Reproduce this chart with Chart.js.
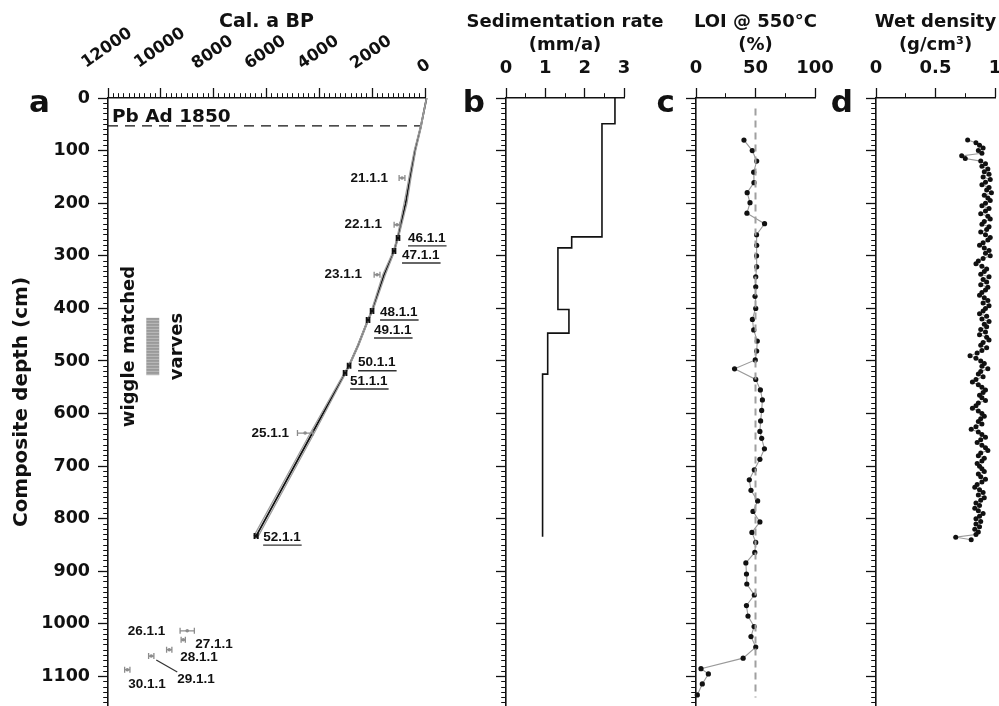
<!DOCTYPE html>
<html>
<head>
<meta charset="utf-8">
<script src="https://cdn.jsdelivr.net/npm/chart.js"></script>
<style>
  body { margin: 0; background: #fff; width: 999px; height: 706px; overflow: hidden; position: relative; }
  canvas { position: absolute; top: 0; }
</style>
</head>
<body>
<canvas id="chartA" width="460" height="706" style="left:0px"></canvas>
<canvas id="chartB" width="230" height="706" style="left:450px"></canvas>
<canvas id="chartC" width="205" height="706" style="left:645px"></canvas>
<canvas id="chartD" width="174" height="706" style="left:825px"></canvas>
<script>
const FONT = '"DejaVu Sans", sans-serif';
const INK = '#111';
const DEPTH_MAX = 1156;

// a: age-depth model (cal. a BP vs composite depth, cm)
const modelDepth = [0, 55, 100, 152, 200, 264, 291, 336, 405, 422, 470, 509, 523, 637, 833];
const modelAge   = [-60, 160, 380, 567, 730, 1021, 1172, 1550, 2004, 2156, 2530, 2874, 3026, 4264, 6392];
const modelOld   = [-60, 180, 410, 610, 790, 1050, 1200, 1600, 2035, 2175, 2555, 2895, 3060, 4340, 6480];
const modelYoung = [-60, 140, 350, 530, 680, 995, 1145, 1500, 1975, 2135, 2505, 2855, 2995, 4190, 6310];
const pbDepth = 53;
const pbLabel = 'Pb Ad 1850';

// a: radiocarbon dates
const dateLabels = ['21.1.1', '22.1.1', '46.1.1', '47.1.1', '23.1.1', '48.1.1', '49.1.1', '50.1.1',
                    '51.1.1', '25.1.1', '52.1.1', '26.1.1', '27.1.1', '28.1.1', '29.1.1', '30.1.1'];
const dateAge   = [870, 1059, 1021, 1172, 1815, 2004, 2156, 2874, 3026, 4538, 6392, 9001, 9152, 9682, 10363, 11270];
const dateDepth = [152, 241, 266, 291, 336, 405, 422, 509, 523, 637, 833, 1013, 1030, 1049, 1061, 1087];
const dateErr   = [110, 110, 50, 50, 110, 50, 50, 50, 50, 290, 60, 270, 80, 100, 100, 100];
const dateUsed  = [false, false, true, true, false, true, true, true, true, false, true, false, false, false, false, false];

// a: wiggle matched / varves interval
const wiggleAge = [10060, 10550];
const wiggleDepth = [418, 527];

// b: sedimentation rate (mm/a), step tops in cm
const sedTop  = [0, 49, 264, 285, 402, 447, 525];
const sedRate = [2.77, 2.44, 1.67, 1.32, 1.60, 1.06, 0.93];
const sedBottom = 834;

// c: LOI @ 550 °C (%)
const loiDepth = [80, 100, 120, 141, 161, 180, 199, 219, 239, 260, 280, 300, 321, 340, 359, 377, 400, 421, 441, 462,
                  481, 498, 515, 535, 555, 574, 594, 614, 634, 647, 667, 687, 707, 726, 746, 766, 786, 806, 826, 845,
                  864, 884, 905, 924, 945, 965, 985, 1005, 1024, 1044, 1065, 1085, 1095, 1114, 1135];
const loiValue = [40.3, 47.3, 51.0, 48.5, 48.7, 43.0, 45.4, 42.8, 57.6, 50.9, 51.0, 50.9, 51.0, 50.2, 50.2, 49.6, 50.2, 47.4, 48.5, 51.5,
                  51.0, 49.8, 32.4, 50.2, 54.1, 55.8, 55.2, 54.3, 53.7, 55.2, 57.5, 53.7, 49.0, 44.8, 46.2, 51.8, 47.9, 53.7, 47.0, 50.2,
                  49.4, 41.9, 42.4, 42.7, 49.0, 42.4, 43.7, 48.8, 46.2, 50.2, 39.6, 4.2, 10.4, 5.3, 1.1];
const loiMean = 50;

// d: wet density (g/cm3)
const densDepth = [80, 85, 90, 95, 100, 105, 110, 115, 120, 125,
  130, 135, 140, 145, 150, 155, 160, 165, 170, 175, 180, 185, 190, 195, 200,
  205, 210, 215, 220, 225, 230, 235, 240, 245, 250, 255, 260, 265, 270, 275, 280, 285, 290, 295, 300,
  305, 310, 315, 320, 325, 330, 335, 340, 345, 350, 355, 360, 365, 370, 375, 380, 385, 390, 395, 400,
  405, 410, 415, 420, 425, 430, 435, 440, 445, 450, 455, 460, 465, 470, 475, 480, 485, 490, 495, 500,
  505, 510, 515, 520, 525, 530, 535, 540, 545, 550, 555, 560, 565, 570, 575, 580, 585, 590, 595, 600,
  605, 610, 615, 620, 625, 630, 635, 640, 645, 650, 655, 660, 665, 670, 675, 680, 685, 690, 695, 700,
  705, 710, 715, 720, 725, 730, 735, 740, 745, 750, 755, 760, 765, 770, 775, 780, 785, 790, 795, 800,
  805, 810, 815, 820, 825, 830, 835, 840];
const densValue = [0.77, 0.84, 0.87, 0.90, 0.86, 0.89, 0.72, 0.75, 0.88, 0.92,
  0.89, 0.94, 0.91, 0.95, 0.90, 0.96, 0.92, 0.89, 0.95, 0.93, 0.97, 0.91, 0.94, 0.96, 0.92,
  0.89, 0.95, 0.92, 0.88, 0.94, 0.96, 0.91, 0.89, 0.95, 0.93, 0.88, 0.92, 0.96, 0.94, 0.90, 0.87, 0.91, 0.95, 0.92, 0.96,
  0.90, 0.86, 0.84, 0.89, 0.93, 0.91, 0.88, 0.95, 0.90, 0.93, 0.88, 0.94, 0.92, 0.89, 0.87, 0.91, 0.94, 0.90, 0.95, 0.92,
  0.90, 0.87, 0.93, 0.89, 0.95, 0.91, 0.93, 0.88, 0.92, 0.87, 0.93, 0.95, 0.90, 0.88, 0.93, 0.89, 0.85, 0.79, 0.84, 0.88,
  0.91, 0.89, 0.94, 0.88, 0.86, 0.90, 0.84, 0.81, 0.86, 0.89, 0.92, 0.90, 0.87, 0.89, 0.92, 0.86, 0.84, 0.81, 0.86, 0.89,
  0.91, 0.88, 0.86, 0.89, 0.84, 0.80, 0.86, 0.89, 0.92, 0.88, 0.85, 0.89, 0.92, 0.94, 0.88, 0.86, 0.91, 0.89, 0.85, 0.87,
  0.89, 0.91, 0.86, 0.88, 0.92, 0.89, 0.85, 0.83, 0.87, 0.90, 0.86, 0.91, 0.88, 0.84, 0.87, 0.83, 0.86, 0.90, 0.87, 0.84,
  0.88, 0.84, 0.87, 0.83, 0.86, 0.84, 0.67, 0.80];

// label placement for the dates: [dx, dy, align, leader]
const dateLabelPos = [[-14, 0, 'right'], [-15, 0, 'right'], [10, 0, 'left'], [8, 4, 'left'], [-15, 0, 'right'],
  [8, 1, 'left'], [6, 10, 'left'], [9, -3, 'left'], [5, 8, 'left'], [-16, 0, 'right'], [7, 1, 'left'],
  [-22, 0, 'right'], [12, 5, 'left'], [11, 8, 'left'], [26, 23, 'left', true], [1, 15, 'left']];

function pts(xs, ys) { return xs.map((v, i) => ({x: v, y: ys[i]})); }
function isMajor(v, major) { return Math.abs(v / major - Math.round(v / major)) < 1e-6; }

// one axis carries both tick sizes: minor ticks are shortened with a dash pattern
function tickGrid(major) {
  const minorOf = c => c.tick && !isMajor(c.tick.value, major);
  return {
    drawOnChartArea: false, tickLength: 10, tickColor: INK,
    tickWidth: c => minorOf(c) ? 1 : 1.3,
    tickBorderDash: c => minorOf(c) ? [0, 5.2, 20, 0] : []
  };
}

function yAxis(width, labels) {
  return {
    type: 'linear', position: 'left', reverse: true, min: 0, max: DEPTH_MAX,
    afterFit: s => { s.width = width; s.paddingTop = 0; s.paddingBottom = 0; },
    ticks: { display: true, stepSize: 10, autoSkip: false, includeBounds: false, maxTicksLimit: 1000,
             callback: v => labels && isMajor(v, 100) ? String(v) : '',
             padding: 8, color: INK, font: { family: FONT, size: 17.5, weight: 'bold' } },
    grid: tickGrid(100),
    border: { color: INK, width: 1.6 },
    title: { display: labels, text: 'Composite depth (cm)', color: INK, padding: { top: 10, bottom: 0 },
             font: { family: FONT, size: 20, weight: 'bold' } }
  };
}

function xAxis(min, max, major, minor, reverse, labels) {
  return {
    type: 'linear', position: 'top', min: min, max: max, reverse: reverse,
    afterFit: s => { s.height = 98; s.paddingLeft = 0; s.paddingRight = 0; },
    ticks: { display: true, stepSize: minor, autoSkip: false, includeBounds: false, maxRotation: 0, maxTicksLimit: 1000,
             callback: v => labels && isMajor(v, major) ? String(v) : '',
             padding: 9, color: INK, font: { family: FONT, size: 18, weight: 'bold' } },
    grid: tickGrid(major),
    border: { color: INK, width: 1.6 }
  };
}

function options(x, y, padRight) {
  return {
    responsive: false, animation: false, events: [],
    layout: { padding: { left: 0, top: 0, right: padRight, bottom: 0 }, autoPadding: false },
    plugins: { legend: { display: false }, tooltip: { enabled: false } },
    scales: { x: x, y: y }
  };
}

function decor(lines, size, letter, letterDx) {
  return {
    id: 'decor',
    afterDraw(chart) {
      const {ctx, chartArea} = chart;
      ctx.save();
      ctx.fillStyle = INK;
      ctx.textAlign = 'center';
      ctx.textBaseline = 'alphabetic';
      ctx.font = 'bold ' + size + 'px ' + FONT;
      const cx = (chartArea.left + chartArea.right) / 2;
      lines.forEach((t, i) => ctx.fillText(t, cx, 27 + i * 23));
      ctx.font = 'bold 31px ' + FONT;
      ctx.textAlign = 'right';
      ctx.fillText(letter, chartArea.left + letterDx, 112);
      ctx.restore();
    }
  };
}

const panelA = {
  id: 'panelA',
  afterDatasetsDraw(chart) {
    const {ctx, chartArea, scales: {x, y}} = chart;
    ctx.save();
    // rotated age labels
    ctx.fillStyle = INK;
    ctx.font = 'bold 16.5px ' + FONT;
    ctx.textAlign = 'center';
    ctx.textBaseline = 'middle';
    const ang = 35 * Math.PI / 180;
    x.ticks.filter(t => isMajor(t.value, 2000)).forEach(t => {
      const s = String(t.value);
      const w = ctx.measureText(s).width;
      ctx.save();
      ctx.translate(x.getPixelForValue(t.value) - 1, 71 - 0.4 * w);
      ctx.rotate(-ang);
      ctx.fillText(s, 0, 0);
      ctx.restore();
    });

    // Pb label
    ctx.font = 'bold 18.5px ' + FONT;
    ctx.textAlign = 'left';
    ctx.textBaseline = 'alphabetic';
    ctx.fillText(pbLabel, chartArea.left + 4, y.getPixelForValue(pbDepth) - 4);

    // error bars
    dateAge.forEach((a, i) => {
      const py = y.getPixelForValue(dateDepth[i]);
      const x1 = x.getPixelForValue(a - dateErr[i]);
      const x2 = x.getPixelForValue(a + dateErr[i]);
      ctx.strokeStyle = dateUsed[i] ? INK : '#8c8c8c';
      ctx.lineWidth = dateUsed[i] ? 2 : 1.3;
      ctx.beginPath();
      ctx.moveTo(x1, py); ctx.lineTo(x2, py);
      ctx.moveTo(x1, py - 3); ctx.lineTo(x1, py + 3);
      ctx.moveTo(x2, py - 3); ctx.lineTo(x2, py + 3);
      ctx.stroke();
    });

    // date labels
    ctx.font = 'bold 13.5px "Liberation Sans", Arial, sans-serif';
    ctx.textBaseline = 'middle';
    dateLabels.forEach((lab, i) => {
      const px = x.getPixelForValue(dateAge[i]);
      const py = y.getPixelForValue(dateDepth[i]);
      const p = dateLabelPos[i];
      const tx = px + p[0], ty = py + p[1];
      ctx.fillStyle = INK;
      ctx.textAlign = p[2];
      ctx.fillText(lab, tx, ty);
      const w = ctx.measureText(lab).width;
      if (dateUsed[i]) {
        const l = p[2] === 'right' ? tx - w : tx;
        ctx.strokeStyle = '#333';
        ctx.lineWidth = 1.4;
        ctx.beginPath();
        ctx.moveTo(l, ty + 8); ctx.lineTo(l + w + 1, ty + 8);
        ctx.stroke();
      }
      if (p[3]) {
        ctx.strokeStyle = '#333';
        ctx.lineWidth = 1.2;
        ctx.beginPath();
        ctx.moveTo(px + 5, py + 4); ctx.lineTo(tx, ty - 7);
        ctx.stroke();
      }
    });

    // wiggle matched / varves box
    const bx1 = x.getPixelForValue(wiggleAge[1]), bx2 = x.getPixelForValue(wiggleAge[0]);
    const by1 = y.getPixelForValue(wiggleDepth[0]), by2 = y.getPixelForValue(wiggleDepth[1]);
    ctx.fillStyle = '#9a9a9a';
    ctx.fillRect(bx1, by1, bx2 - bx1, by2 - by1);
    ctx.strokeStyle = 'rgba(255,255,255,0.35)';
    ctx.lineWidth = 1;
    for (let yy = by1 + 2; yy < by2; yy += 3) {
      ctx.beginPath(); ctx.moveTo(bx1, yy + 0.5); ctx.lineTo(bx2, yy + 0.5); ctx.stroke();
    }
    ctx.fillStyle = INK;
    ctx.font = 'bold 18px ' + FONT;
    ctx.textAlign = 'center';
    ctx.textBaseline = 'middle';
    const cy = (by1 + by2) / 2;
    [['wiggle matched', bx1 - 17], ['varves', bx2 + 18]].forEach(([t, tx]) => {
      ctx.save();
      ctx.translate(tx, cy);
      ctx.rotate(-Math.PI / 2);
      ctx.fillText(t, 0, 0);
      ctx.restore();
    });
    ctx.restore();
  }
};

// a
new Chart(document.getElementById('chartA'), {
  type: 'scatter',
  data: {
    datasets: [
      { data: pts(modelOld, modelDepth), showLine: true, borderColor: '#9c9c9c', borderWidth: 1.2, pointRadius: 0, clip: false },
      { data: pts(modelYoung, modelDepth), showLine: true, borderColor: '#9c9c9c', borderWidth: 1.2, pointRadius: 0, clip: false },
      { data: pts(modelAge, modelDepth), showLine: true, borderColor: INK, borderWidth: 1.8, pointRadius: 0, clip: false },
      { data: [{x: 12000, y: pbDepth}, {x: 190, y: pbDepth}], showLine: true, borderColor: INK, borderWidth: 1.4,
        borderDash: [10, 7], pointRadius: 0 },
      { data: pts(dateAge, dateDepth), showLine: false, pointRadius: 1.8, borderWidth: 0,
        pointBackgroundColor: dateUsed.map(u => u ? INK : '#8c8c8c') }
    ]
  },
  options: options(xAxis(0, 12000, 2000, 200, true, false), yAxis(108, true), 35),
  plugins: [panelA, decor(['Cal. a BP'], 19, 'a', -58)]
});

// b
const sedPoints = pts(sedRate, sedTop);
sedPoints.push({x: sedRate[sedRate.length - 1], y: sedBottom});
new Chart(document.getElementById('chartB'), {
  type: 'scatter',
  data: {
    datasets: [
      { data: sedPoints, showLine: true, stepped: 'after', borderColor: INK, borderWidth: 1.6, pointRadius: 0, clip: false }
    ]
  },
  options: options(xAxis(0, 3, 1, 0.5, false, true), yAxis(56, false), 56),
  plugins: [decor(['Sedimentation rate', '(mm/a)'], 18, 'b', -21)]
});

// c
new Chart(document.getElementById('chartC'), {
  type: 'scatter',
  data: {
    datasets: [
      { data: [{x: loiMean, y: 20}, {x: loiMean, y: 1140}], showLine: true, borderColor: '#a0a0a0', borderWidth: 2,
        borderDash: [7, 5], pointRadius: 0 },
      { data: pts(loiValue, loiDepth), showLine: true, borderColor: '#9a9a9a', borderWidth: 1.1,
        pointRadius: 2.6, pointBackgroundColor: INK, pointBorderWidth: 0, clip: false }
    ]
  },
  options: options(xAxis(0, 100, 50, 25, false, true), yAxis(51, false), 35),
  plugins: [decor(['LOI @ 550°C', '(%)'], 18, 'c', -21)]
});

// d
new Chart(document.getElementById('chartD'), {
  type: 'scatter',
  data: {
    datasets: [
      { data: pts(densValue, densDepth), showLine: true, borderColor: '#9a9a9a', borderWidth: 1.1,
        pointRadius: 2.5, pointBackgroundColor: INK, pointBorderWidth: 0 }
    ]
  },
  options: options(xAxis(0, 1, 0.5, 0.25, false, true), yAxis(51, false), 4),
  plugins: [decor(['Wet density', '(g/cm³)'], 18, 'd', -23)]
});
</script>
</body>
</html>
